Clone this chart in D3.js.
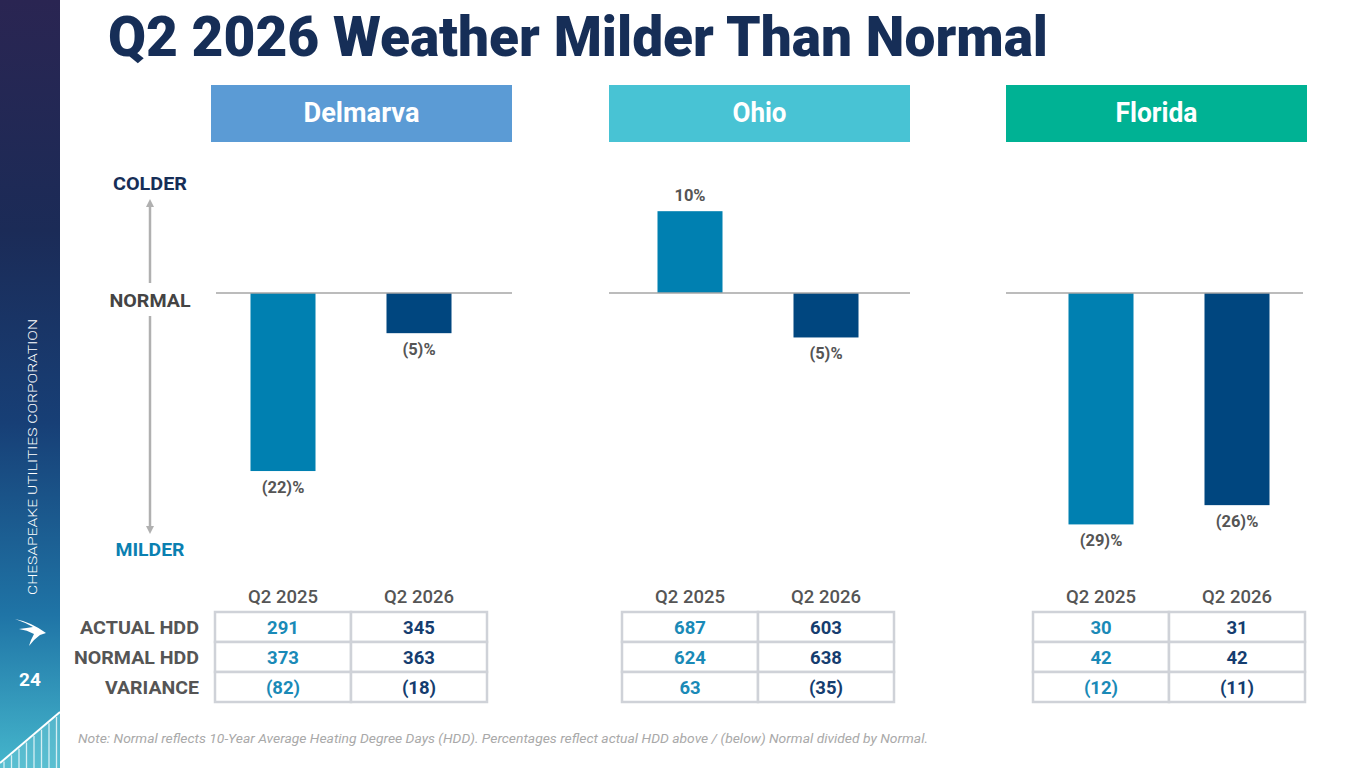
<!DOCTYPE html>
<html>
<head>
<meta charset="utf-8">
<script src="https://cdn.jsdelivr.net/npm/d3@7"></script>
<style>
  html, body { margin: 0; padding: 0; background: #ffffff; }
  svg { display: block; font-family: Roboto, "Noto Sans", "DejaVu Sans", sans-serif; }
</style>
</head>
<body>
<svg id="chart" width="1365" height="768"></svg>
<script>
// ---------------- DATA ----------------
const title = "Q2 2026 Weather Milder Than Normal";
const regions = ["Delmarva", "Ohio", "Florida"];
const periods = ["Q2 2025", "Q2 2026"];
const rowLabels = ["ACTUAL HDD", "NORMAL HDD", "VARIANCE"];
const actualHDD   = [[291, 345], [687, 603], [30, 31]];
const normalHDD   = [[373, 363], [624, 638], [42, 42]];
const varianceHDD = [[-82, -18], [63, -35], [-12, -11]];
const variancePct = [[-21.98, -4.96], [10.10, -5.49], [-28.57, -26.19]];
const axisLabels = ["COLDER", "NORMAL", "MILDER"];
const sidebarText = "CHESAPEAKE UTILITIES CORPORATION";
const pageNumber = "24";
const note = "Note: Normal reflects 10-Year Average Heating Degree Days (HDD). Percentages reflect actual HDD above / (below) Normal divided by Normal.";

// ---------------- STYLE / LAYOUT ----------------
const headerColors = ["#5b9bd5", "#48c3d4", "#00b294"];
const barColors = ["#0080b1", "#00467f"];
const valueColors = ["#1a8ab7", "#153d6f"];
const navy = "#162e57";
const grayText = "#555555";
const headerX = [211, 609, 1006];
const headerW = 301;
const tableLeft = [215, 622, 1033];
const tableW = 272;
const headerTextW = [116, 54, 82];
const rowLabelW = [119, 125, 94];
const axisLabelW = [74, 81, 69];

const svg = d3.select("#chart");
const defs = svg.append("defs");

// ---------------- SIDEBAR ----------------
const grad = defs.append("linearGradient").attr("id", "side").attr("x1", 0).attr("y1", 0).attr("x2", 0).attr("y2", 1);
[[0, "#2a2552"], [0.3, "#1b2b57"], [0.55, "#173f76"], [0.8, "#1f74a6"], [1, "#45b6cc"]]
  .forEach(([o, c]) => grad.append("stop").attr("offset", o).attr("stop-color", c));
svg.append("rect").attr("x", 0).attr("y", 0).attr("width", 60).attr("height", 768).attr("fill", "url(#side)");

const diag = x => 763 - (x / 60) * 51;
svg.append("polygon")
  .attr("points", `0,${diag(0)} 60,${diag(60)} 60,768 0,768`)
  .attr("fill", "#6cc6d6").attr("opacity", 0.55);
d3.range(4, 60, 7.5).forEach(x => {
  svg.append("line").attr("x1", x).attr("x2", x).attr("y1", diag(x) + 2).attr("y2", 768)
    .attr("stroke", "#ffffff").attr("stroke-opacity", 0.75).attr("stroke-width", 1.3);
});
svg.append("line").attr("x1", 0).attr("y1", diag(0)).attr("x2", 60).attr("y2", diag(60))
  .attr("stroke", "#ffffff").attr("stroke-width", 2);

svg.append("text")
  .attr("transform", "translate(36.5,457) rotate(-90)")
  .attr("text-anchor", "middle")
  .attr("fill", "#ffffff")
  .attr("font-size", 13)
  .attr("font-weight", 300)
  .attr("textLength", 276)
  .attr("lengthAdjust", "spacingAndGlyphs")
  .text(sidebarText);

svg.append("path")
  .attr("d", "M15,619 Q31,622 46,633 L40,635 Q33,640 29,646 Q31,639 34,634 Q27,630 19,629 Q27,628 33,627 Q24,622 15,619 Z")
  .attr("fill", "#ffffff");

svg.append("text").attr("x", 30).attr("y", 686).attr("text-anchor", "middle")
  .attr("fill", "#ffffff").attr("font-size", 19).attr("font-weight", 700).text(pageNumber);

// ---------------- TITLE ----------------
svg.append("text").attr("x", 108).attr("y", 56)
  .attr("fill", navy).attr("font-size", 56).attr("font-weight", 900)
  .attr("textLength", 940).attr("lengthAdjust", "spacingAndGlyphs")
  .text(title);

// ---------------- LEFT AXIS ----------------
const axG = svg.append("g");
const ax = 150;
axG.append("line").attr("x1", ax).attr("x2", ax).attr("y1", 205).attr("y2", 283)
  .attr("stroke", "#b0b0b0").attr("stroke-width", 2.5);
axG.append("line").attr("x1", ax).attr("x2", ax).attr("y1", 316).attr("y2", 528)
  .attr("stroke", "#b0b0b0").attr("stroke-width", 2.5);
axG.append("path").attr("d", `M${ax - 4},${207} L${ax},${199} L${ax + 4},${207} Z`).attr("fill", "#b0b0b0");
axG.append("path").attr("d", `M${ax - 4},${526} L${ax},${534} L${ax + 4},${526} Z`).attr("fill", "#b0b0b0");
const axisColors = [navy, "#444444", "#0a80b1"];
const axisY = [190, 307, 556];
axisLabels.forEach((t, i) => {
  axG.append("text").attr("x", ax).attr("y", axisY[i]).attr("text-anchor", "middle")
    .attr("fill", axisColors[i]).attr("font-size", 18.5).attr("font-weight", 700)
    .attr("textLength", axisLabelW[i]).attr("lengthAdjust", "spacingAndGlyphs").text(t);
});

// ---------------- PANELS ----------------
const y = d3.scaleLinear().domain([-30, 10]).range([536, 212]);
const fmtNum = n => n < 0 ? `(${-n})` : `${n}`;
const fmtPct = p => { const r = Math.round(p); return r < 0 ? `(${-r})%` : `${r}%`; };

regions.forEach((reg, i) => {
  const g = svg.append("g");
  g.append("rect").attr("x", headerX[i]).attr("y", 85).attr("width", headerW).attr("height", 57)
    .attr("fill", headerColors[i]);
  g.append("text").attr("x", headerX[i] + headerW / 2).attr("y", 122).attr("text-anchor", "middle")
    .attr("fill", "#ffffff").attr("font-size", 27).attr("font-weight", 700)
    .attr("textLength", headerTextW[i]).attr("lengthAdjust", "spacingAndGlyphs").text(reg);

  const xBar = d3.scaleBand().domain(periods).range([tableLeft[i], tableLeft[i] + tableW])
    .paddingInner(0.522).paddingOuter(0.261);

  const data = periods.map((p, j) => ({ p, j, v: variancePct[i][j] }));
  g.selectAll("rect.bar").data(data).join("rect").attr("class", "bar")
    .attr("x", d => xBar(d.p))
    .attr("width", xBar.bandwidth())
    .attr("y", d => Math.min(y(0), y(d.v)))
    .attr("height", d => Math.abs(y(d.v) - y(0)))
    .attr("fill", d => barColors[d.j]);

  const bx0 = i === 0 ? 216 : headerX[i];
  const bx1 = i === 2 ? headerX[i] + 297 : headerX[i] + headerW;
  g.append("line").attr("x1", bx0).attr("x2", bx1).attr("y1", y(0)).attr("y2", y(0))
    .attr("stroke", "#a6a6a6").attr("stroke-width", 1.5);

  g.selectAll("text.val").data(data).join("text").attr("class", "val")
    .attr("x", d => xBar(d.p) + xBar.bandwidth() / 2)
    .attr("y", d => d.v < 0 ? y(d.v) + 22 : y(d.v) - 10)
    .attr("text-anchor", "middle")
    .attr("fill", grayText).attr("font-size", 16.5).attr("font-weight", 700)
    .text(d => fmtPct(d.v));

  const xCol = d3.scaleBand().domain(periods).range([tableLeft[i], tableLeft[i] + tableW]);
  periods.forEach(p => {
    g.append("text").attr("x", xCol(p) + xCol.bandwidth() / 2).attr("y", 603)
      .attr("text-anchor", "middle").attr("fill", grayText)
      .attr("font-size", 18.5).attr("font-weight", 500).text(p);
  });
  const rows = [actualHDD[i], normalHDD[i], varianceHDD[i]];
  const rowY = d3.scaleBand().domain(rowLabels).range([612, 702]);
  rowLabels.forEach((lab, r) => {
    periods.forEach((p, j) => {
      g.append("rect").attr("x", xCol(p)).attr("y", rowY(lab))
        .attr("width", xCol.bandwidth()).attr("height", rowY.bandwidth())
        .attr("fill", "#ffffff").attr("stroke", "#cfd2d8").attr("stroke-width", 2.5);
      g.append("text").attr("x", xCol(p) + xCol.bandwidth() / 2)
        .attr("y", rowY(lab) + rowY.bandwidth() / 2 + 6.5)
        .attr("text-anchor", "middle").attr("fill", valueColors[j])
        .attr("font-size", 18.5).attr("font-weight", 700).text(fmtNum(rows[r][j]));
    });
    if (i === 0) {
      g.append("text").attr("x", 199).attr("y", rowY(lab) + rowY.bandwidth() / 2 + 7)
        .attr("text-anchor", "end").attr("fill", grayText)
        .attr("font-size", 19).attr("font-weight", 700)
        .attr("textLength", rowLabelW[r]).attr("lengthAdjust", "spacingAndGlyphs").text(lab);
    }
  });
});

// ---------------- NOTE ----------------
svg.append("text").attr("x", 78).attr("y", 743)
  .attr("fill", "#a9a9a9").attr("font-size", 12).attr("font-style", "italic")
  .attr("textLength", 850).attr("lengthAdjust", "spacingAndGlyphs")
  .text(note);
</script>
</body>
</html>
